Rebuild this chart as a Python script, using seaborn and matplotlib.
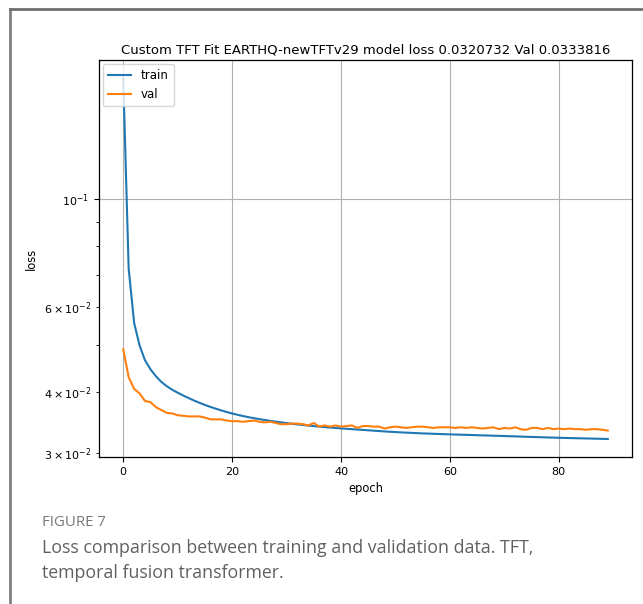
import numpy as np
import pandas as pd
import matplotlib
matplotlib.use("Agg")
import matplotlib.pyplot as plt
import seaborn as sns
from matplotlib.lines import Line2D

title = "Custom TFT Fit EARTHQ-newTFTv29 model loss 0.0320732 Val 0.0333816"
caption_head = "FIGURE 7"
caption_lines = ["Loss comparison between training and validation data. TFT,",
                 "temporal fusion transformer."]

train_loss = [
    0.17800, 0.07200, 0.05570, 0.05000, 0.04660, 0.04465, 0.04320, 0.04205, 0.04120, 0.04052,
    0.03995, 0.03943, 0.03895, 0.03850, 0.03808, 0.03770, 0.03735, 0.03703, 0.03673, 0.03645,
    0.03620, 0.03597, 0.03576, 0.03557, 0.03540, 0.03524, 0.03509, 0.03495, 0.03482, 0.03470,
    0.03458, 0.03447, 0.03437, 0.03427, 0.03418, 0.03409, 0.03401, 0.03393, 0.03386, 0.03379,
    0.03372, 0.03366, 0.03360, 0.03354, 0.03348, 0.03342, 0.03336, 0.03330, 0.03324, 0.03319,
    0.03314, 0.03309, 0.03305, 0.03301, 0.03297, 0.03293, 0.03290, 0.03287, 0.03284, 0.03281,
    0.03278, 0.03275, 0.03273, 0.03270, 0.03268, 0.03265, 0.03262, 0.03260, 0.03257, 0.03255,
    0.03252, 0.03249, 0.03247, 0.03244, 0.03241, 0.03238, 0.03236, 0.03233, 0.03230, 0.03228,
    0.03225, 0.03223, 0.03221, 0.03219, 0.03217, 0.03215, 0.03213, 0.03211, 0.03209, 0.0320732,
]
val_loss = [
    0.0491, 0.0430, 0.0407, 0.0398, 0.0384, 0.0382, 0.0373, 0.0368, 0.0363, 0.0362,
    0.0359, 0.0358, 0.0357, 0.0357, 0.0357, 0.0355, 0.0352, 0.0352, 0.0352, 0.0350,
    0.0349, 0.0349, 0.0348, 0.0349, 0.0350, 0.0348, 0.0347, 0.0348, 0.0346, 0.0344,
    0.0344, 0.0345, 0.0345, 0.0344, 0.0342, 0.0346, 0.0340, 0.0342, 0.0340, 0.0342,
    0.0340, 0.0341, 0.0342, 0.0338, 0.0341, 0.0341, 0.0340, 0.0340, 0.0337, 0.0339,
    0.0340, 0.0339, 0.0338, 0.0339, 0.0340, 0.0340, 0.0339, 0.0338, 0.0339, 0.0339,
    0.0339, 0.0338, 0.0339, 0.0338, 0.0339, 0.0338, 0.0337, 0.0338, 0.0339, 0.0336,
    0.0338, 0.0337, 0.0339, 0.0336, 0.0335, 0.0338, 0.0338, 0.0336, 0.0338, 0.0336,
    0.0337, 0.0336, 0.0337, 0.0336, 0.0336, 0.0335, 0.0336, 0.0336, 0.0335, 0.0333816,
]
epochs = list(range(len(train_loss)))

df = pd.DataFrame({
    "epoch": epochs + epochs,
    "loss": train_loss + val_loss,
    "series": ["train"] * len(epochs) + ["val"] * len(epochs),
})

fig = plt.figure(figsize=(6.43, 6.04), dpi=100)
ax = fig.add_axes([99 / 643, 1 - 457 / 604, (632 - 99) / 643, (457 - 60) / 604])

sns.lineplot(data=df, x="epoch", y="loss", hue="series",
             palette={"train": "#1f77b4", "val": "#ff7f0e"},
             linewidth=1.5, ax=ax, legend=False)
ax.set_yscale("log")
ax.grid(True, which="major", color="#b0b0b0", linewidth=0.8)
ax.set_axisbelow(True)
ax.set_title(title, fontsize=9.5, pad=5)
ax.set_xlabel("epoch", fontsize=8.3)
ax.set_ylabel("loss", fontsize=8.3)
ax.tick_params(axis="both", which="both", labelsize=8.0)
for s in ax.spines.values():
    s.set_linewidth(0.9)

handles = [Line2D([0], [0], color="#1f77b4", lw=1.5),
           Line2D([0], [0], color="#ff7f0e", lw=1.5)]
ax.legend(handles, ["train", "val"], loc="upper left", fontsize=8.5,
          borderaxespad=0.35, handlelength=2.0, labelspacing=0.55)

# card border
fig.add_artist(Line2D([10 / 643, 10 / 643], [0, 1 - 9 / 604],
                      color="#808080", linewidth=2.0))
fig.add_artist(Line2D([10 / 643, 1], [1 - 9 / 604, 1 - 9 / 604],
                      color="#707070", linewidth=2.0))

fig.text(42 / 643, 1 - 523 / 604, caption_head, fontsize=10.8,
         family="Open Sans", color="#777777", va="center")
fig.text(42 / 643, 1 - 548 / 604, caption_lines[0], fontsize=12.8,
         family="Open Sans", color="#606060", va="center")
fig.text(42 / 643, 1 - 573 / 604, caption_lines[1], fontsize=12.8,
         family="Open Sans", color="#606060", va="center")

fig.savefig("out.png", dpi=100)
